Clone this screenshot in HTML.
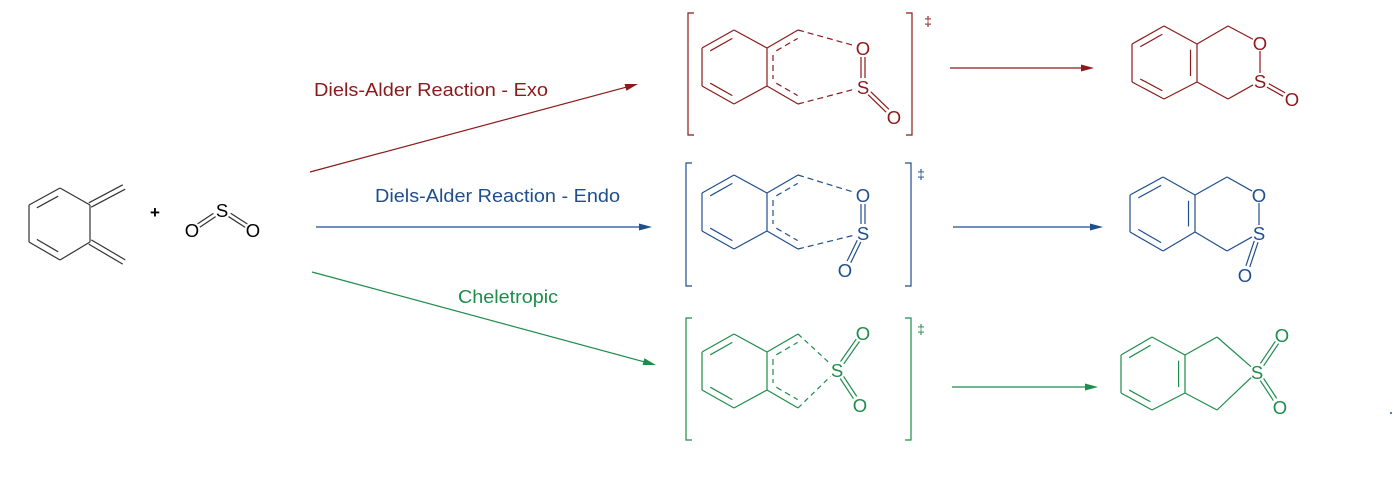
<!DOCTYPE html>
<html><head><meta charset="utf-8"><style>
html,body{margin:0;padding:0;background:#fff;}
svg{display:block;font-family:"Liberation Sans",Arial,sans-serif;}
</style></head><body>
<svg id="s" width="1393" height="482" viewBox="0 0 1393 482" xmlns="http://www.w3.org/2000/svg">
<g id="g" fill="none" stroke-width="1.2"></g>
<g font-size="18.5">
<text x="314" y="96" fill="#8b1a1a" textLength="234" lengthAdjust="spacingAndGlyphs">Diels-Alder Reaction - Exo</text>
<text x="375" y="202" fill="#1f4e8c" textLength="245" lengthAdjust="spacingAndGlyphs">Diels-Alder Reaction - Endo</text>
<text x="458" y="303" fill="#1e8c4a" textLength="100" lengthAdjust="spacingAndGlyphs">Cheletropic</text>
</g>
<g font-size="18.5" text-anchor="middle">
<text x="155" y="218" fill="#000" font-size="17" font-weight="bold">+</text>
<text x="222" y="217" fill="#000">S</text>
<text x="192" y="237" fill="#000">O</text>
<text x="253" y="237" fill="#000">O</text>
<g fill="#8b1a1a">
<text x="863" y="55">O</text><text x="863" y="94">S</text><text x="894" y="124">O</text>
<text x="928" y="26" font-size="14">‡</text>
<text x="1260" y="50">O</text><text x="1260" y="88">S</text><text x="1292" y="106">O</text>
</g>
<g fill="#1f4e8c">
<text x="863" y="202">O</text><text x="863" y="240">S</text><text x="845" y="277">O</text>
<text x="921" y="179" font-size="14">‡</text>
<text x="1259" y="202">O</text><text x="1259" y="240">S</text><text x="1245" y="282">O</text>
</g>
<g fill="#1e8c4a">
<text x="837" y="377">S</text><text x="863" y="340">O</text><text x="860" y="412">O</text>
<text x="921" y="334" font-size="14">‡</text>
<text x="1257" y="379">S</text><text x="1282" y="342">O</text><text x="1280" y="414">O</text>
</g>
</g>
<circle cx="1391" cy="413" r="1" fill="#1f4e8c"/>
</svg>
<script>
var g=document.getElementById('g'),NS='http://www.w3.org/2000/svg';
function L(a,b,c,d){var l=document.createElementNS(NS,'line');l.setAttribute('x1',a[0]);l.setAttribute('y1',a[1]);l.setAttribute('x2',b[0]);l.setAttribute('y2',b[1]);l.setAttribute('stroke',c);if(d)l.setAttribute('stroke-dasharray',d);g.appendChild(l);}
function lerp(a,b,t){return [a[0]+(b[0]-a[0])*t,a[1]+(b[1]-a[1])*t];}
function sh(a,b,s1,s2){var dx=b[0]-a[0],dy=b[1]-a[1],n=Math.hypot(dx,dy);return [[a[0]+dx/n*s1,a[1]+dy/n*s1],[b[0]-dx/n*s2,b[1]-dy/n*s2]];}
function B(a,b,c,s1,s2,d){var p=sh(a,b,s1||0,s2||0);L(p[0],p[1],c,d);}
function inner(a,b,C,c,d){var t=0.2;var p=lerp(a,C,t),q=lerp(b,C,t);var r=sh(p,q,2,2);L(r[0],r[1],c,d);}
function par(a,b,c,off,s1,s2,d){var dx=b[0]-a[0],dy=b[1]-a[1],n=Math.hypot(dx,dy);var ox=-dy/n*off,oy=dx/n*off;for(var k of [-1,1]){B([a[0]+ox*k,a[1]+oy*k],[b[0]+ox*k,b[1]+oy*k],c,s1,s2,d);}}
function hex(L0,Tx,Ty,R,Y1,Y2,By){return [[Tx,Ty],[R,Y1],[R,Y2],[Tx,By],[L0,Y2],[L0,Y1]];}
function ring(h,c){for(var i=0;i<6;i++)L(h[i],h[(i+1)%6],c);}
function arrow(a,b,c){L(a,sh(a,b,0,6)[1],c);var dx=b[0]-a[0],dy=b[1]-a[1],n=Math.hypot(dx,dy),ux=dx/n,uy=dy/n;var p=document.createElementNS(NS,'polygon');var bx=b[0]-ux*13,by=b[1]-uy*13;p.setAttribute('points',b[0]+','+b[1]+' '+(bx-uy*3.5)+','+(by+ux*3.5)+' '+(bx+uy*3.5)+','+(by-ux*3.5));p.setAttribute('fill',c);p.setAttribute('stroke','none');g.appendChild(p);}
function bracket(x1,x2,y1,y2,c){var p=document.createElementNS(NS,'path');p.setAttribute('d','M'+(x1+6)+' '+y1+'H'+x1+'V'+y2+'H'+(x1+6)+'M'+(x2-6)+' '+y1+'H'+x2+'V'+y2+'H'+(x2-6));p.setAttribute('stroke',c);g.appendChild(p);}
var K='#333',R='#8b1a1a',Bl='#1f4e8c',G='#1e8c4a';
var h=hex(29,60,188,90,205,242,260),C=[59.5,224];ring(h,K);inner(h[5],h[0],C,K);inner(h[3],h[4],C,K);
par([90,205],[124,187],K,2.5);par([90,242],[124,262],K,2.5);
par([222,210],[192,230],K,2,9,8);par([222,210],[253,230],K,2,9,8);
arrow([310,172],[638,84],R);arrow([316,227],[652,227],Bl);arrow([312,272],[656,365],G);
arrow([950,68],[1094,68],R);arrow([953,227],[1103,227],Bl);arrow([952,387],[1098,387],G);
function TS(y0,c,O1,S,O2,type){var T=y0,Y1=y0+18,Y2=y0+56,Bt=y0+74;var h=hex(702,734,T,767,Y1,Y2,Bt),C=[734.5,(T+Bt)/2];ring(h,c);inner(h[5],h[0],C,c);inner(h[3],h[4],C,c);
var ct=[798,T],cb=[798,Bt];L([767,Y1],ct,c);L([767,Y2],cb,c);
L([773,Y1+7],[773,Y2-7],c,'6,4');
var NC=[805,(T+Bt)/2];inner([767,Y1],ct,NC,c,'6,4');inner([767,Y2],cb,NC,c,'6,4');
if(type=='da'){B(ct,O1,c,0,9,'6,4');B(cb,S,c,0,9,'6,4');par(O1,S,c,2,9,9);par(S,O2,c,2,9,9);}
else{B(ct,S,c,0,9,'5,4');B(cb,S,c,0,9,'5,4');par(S,O1,c,2,9,9);par(S,O2,c,2,9,9);}}
bracket(688,912,13,135,R);TS(30,R,[863,48],[863,87],[894,117],'da');
bracket(686,911,163,286,Bl);TS(175,Bl,[863,195],[863,233],[845,270],'da');
bracket(686,911,318,440,G);TS(334,G,[863,333],[837,370],[860,405],'ch');
function P(L0,Tx,T,Rx,Y1,Y2,Bt,cx,c,O1,S,O2,type){var h=hex(L0,Tx,T,Rx,Y1,Y2,Bt),C=[(L0+Rx)/2,(T+Bt)/2];ring(h,c);inner(h[5],h[0],C,c);inner(h[3],h[4],C,c);inner(h[1],h[2],C,c);
var ct=[cx,T],cb=[cx,Bt];L([Rx,Y1],ct,c);L([Rx,Y2],cb,c);
if(type=='da'){B(ct,O1,c,0,8);B(O1,S,c,8,8);B(cb,S,c,0,8);par(S,O2,c,2,9,9);}
else{B(ct,S,c,0,8);B(cb,S,c,0,8);par(S,O1,c,2,9,9);par(S,O2,c,2,9,9);}}
P(1132,1164,26,1197,44,82,99,1228,R,[1260,43],[1260,81],[1292,99],'da');
P(1130,1163,177,1195,195,232,251,1227,Bl,[1259,195],[1259,233],[1245,275],'da');
P(1121,1152,337,1185,355,393,410,1217,G,[1282,335],[1257,372],[1280,407],'ch');
</script>
</body></html>
